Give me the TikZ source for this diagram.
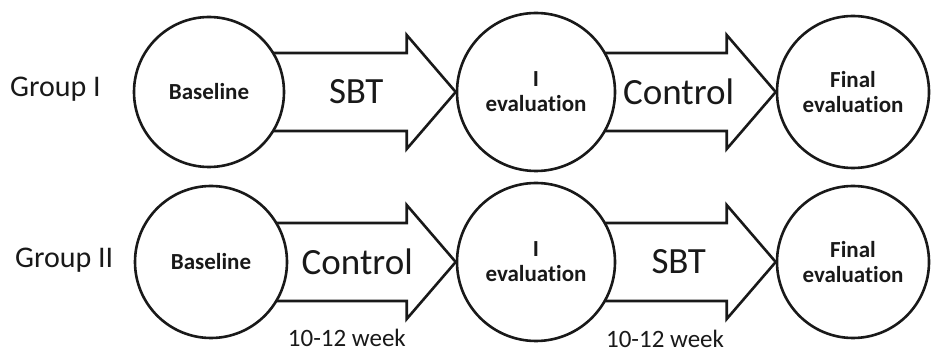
\documentclass[tikz,border=0pt]{standalone}
\usepackage{fontspec}
\setmainfont{Carlito}[RawFeature=-liga]
\usepackage{tikz}
\usetikzlibrary{positioning,calc,backgrounds}
\definecolor{inkgray}{RGB}{25,25,25}
\tikzset{
  stage/.style      = {circle, draw=inkgray, line width=2.6pt, fill=white, align=center, inner sep=0pt, text=inkgray, font=\bfseries\fontsize{23}{25}\selectfont},
  shaft/.style      = {draw=inkgray, line width=2.6pt, fill=white, line join=miter},
  armlabel/.style   = {inner sep=0pt, text=inkgray, font=\fontsize{37}{40}\selectfont},
  grouplabel/.style = {inner sep=0pt, anchor=west, text=inkgray, font=\fontsize{30}{32}\selectfont},
  weeklabel/.style  = {inner sep=0pt, text=inkgray, font=\fontsize{25}{27}\selectfont},
}
% block arrow from circle #1 to circle #2 (tail hidden behind circle #1)
\newcommand{\bigarrow}[2]{%
  \draw[shaft] ($(#1)+(0,39)$) -- ($(#2.west)+(-49,39)$) -- ($(#2.west)+(-49,57)$)
    -- (#2.west) -- ($(#2.west)+(-49,-57)$) -- ($(#2.west)+(-49,-39)$)
    -- ($(#1)+(0,-39)$) -- cycle;}

\begin{document}
\begin{tikzpicture}[x=1pt,y=1pt]
  \useasboundingbox (0,0) rectangle (931,353);

  % group I
  \node[grouplabel] (grp1) at (10,264) {Group I};
  \node[stage, minimum size=150pt] (base1)  at (209,261) {Baseline};
  \node[stage, minimum size=158pt] (eval1)  at (536,261) {I\\evaluation};
  \node[stage, minimum size=152pt] (final1) at (853,261) {Final\\evaluation};

  % group II
  \node[grouplabel] (grp2) at (15,93) {Group II};
  \node[stage, minimum size=152pt] (base2)  at (211,91) {Baseline};
  \node[stage, minimum size=158pt] (eval2)  at (536,91) {I\\evaluation};
  \node[stage, minimum size=152pt] (final2) at (853,91) {Final\\evaluation};

  \begin{scope}[on background layer]
    \bigarrow{base1}{eval1}
    \bigarrow{eval1}{final1}
    \bigarrow{base2}{eval2}
    \bigarrow{eval2}{final2}
  \end{scope}

  \node[armlabel] (arm1) at ($(base1)!0.45!(eval1)$)  {SBT};
  \node[armlabel] (arm2) at ($(eval1)!0.45!(final1)$) {Control};
  \node[armlabel] (arm3) at ($(base2)!0.45!(eval2)$)  {Control};
  \node[armlabel] (arm4) at ($(eval2)!0.45!(final2)$) {SBT};

  \node[weeklabel] (wk1) at ($(base2)!0.418!(eval2)+(0,-76)$)  {10-12 week};
  \node[weeklabel] (wk2) at ($(eval2)!0.407!(final2)+(0,-77)$) {10-12 week};
\end{tikzpicture}
\end{document}
